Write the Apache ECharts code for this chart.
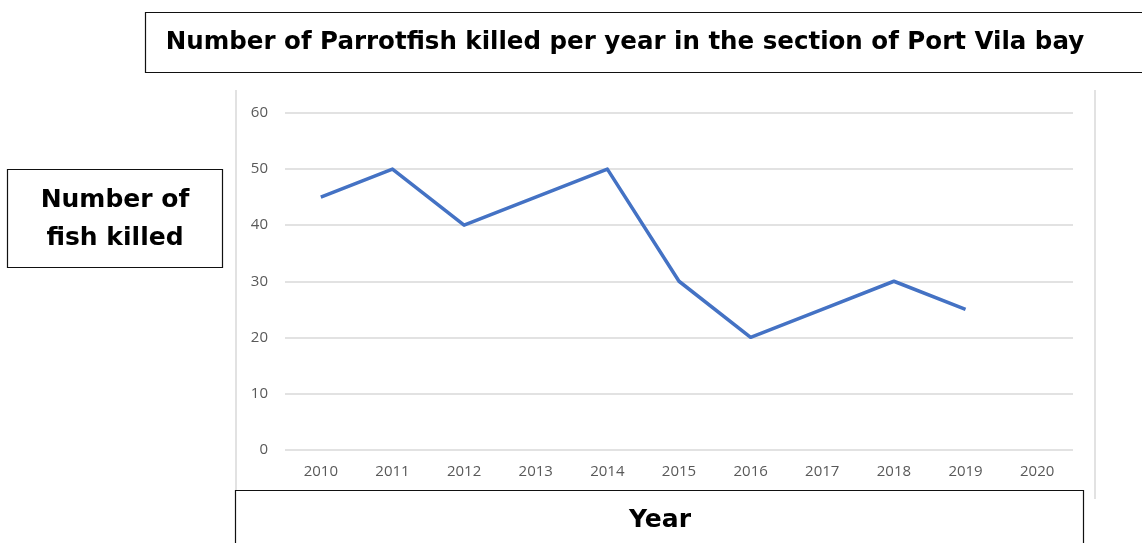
<!DOCTYPE html>
<html><head><meta charset="utf-8">
<script src="https://cdn.jsdelivr.net/npm/echarts@6/dist/echarts.min.js"></script>
<style>html,body{margin:0;padding:0;background:#fff}#c{width:1142px;height:543px}</style>
</head><body><div id="c"></div>
<script>
const years = ['2010','2011','2012','2013','2014','2015','2016','2017','2018','2019','2020'];
const fishKilled = [45, 50, 40, 45, 50, 30, 20, 25, 30, 25, null];
const yTicks = [0, 10, 20, 30, 40, 50, 60];
const titleText = 'Number of Parrotfish killed per year in the section of Port Vila bay';
const yLabelText = 'Number of\nfish killed';
const xLabelText = 'Year';

const chart = echarts.init(document.getElementById('c'), null, {renderer: 'canvas'});
const boxFont = '"DejaVu Sans", "Noto Sans", sans-serif';
const tickFont = '"Open Sans", "Liberation Sans", sans-serif';
chart.setOption({
  animation: false,
  backgroundColor: '#fff',
  grid: {left: 285, right: 69, top: 113, bottom: 93.5, containLabel: false},
  xAxis: {
    type: 'category', data: years, boundaryGap: true,
    axisLine: {show: false}, axisTick: {show: false},
    axisLabel: {color: '#595959', fontSize: 15, fontFamily: tickFont, margin: 15}
  },
  yAxis: {
    type: 'value', min: yTicks[0], max: yTicks[yTicks.length - 1], interval: 10,
    axisLine: {show: false}, axisTick: {show: false},
    axisLabel: {color: '#595959', fontSize: 15, fontFamily: tickFont, margin: 17},
    splitLine: {lineStyle: {color: '#d9d9d9', width: 1.5}}
  },
  series: [{
    type: 'line', data: fishKilled, symbol: 'none',
    lineStyle: {color: '#4472C4', width: 3.5, join: 'round'}
  }],
  graphic: [
    {type: 'line', shape: {x1: 236, y1: 90, x2: 236, y2: 490}, style: {stroke: '#d9d9d9', lineWidth: 1.5}},
    {type: 'line', shape: {x1: 1095, y1: 90, x2: 1095, y2: 499}, style: {stroke: '#d9d9d9', lineWidth: 1.5}},
    {type: 'rect', shape: {x: 145.5, y: 12.5, width: 1010, height: 60}, style: {fill: '#fff', stroke: '#111', lineWidth: 1.2}},
    {type: 'text', x: 625, y: 43, style: {text: titleText, fill: '#000', font: 'bold 24.5px ' + boxFont, align: 'center', verticalAlign: 'middle'}},
    {type: 'rect', shape: {x: 7.5, y: 169.5, width: 215, height: 98}, style: {fill: '#fff', stroke: '#111', lineWidth: 1.2}},
    {type: 'text', x: 115, y: 219, style: {text: yLabelText, fill: '#000', font: 'bold 25px ' + boxFont, align: 'center', verticalAlign: 'middle', lineHeight: 38}},
    {type: 'rect', shape: {x: 235.5, y: 490.5, width: 848, height: 70}, style: {fill: '#fff', stroke: '#111', lineWidth: 1.2}},
    {type: 'text', x: 660, y: 520, style: {text: xLabelText, fill: '#000', font: 'bold 25px ' + boxFont, align: 'center', verticalAlign: 'middle'}}
  ]
});
</script></body></html>
